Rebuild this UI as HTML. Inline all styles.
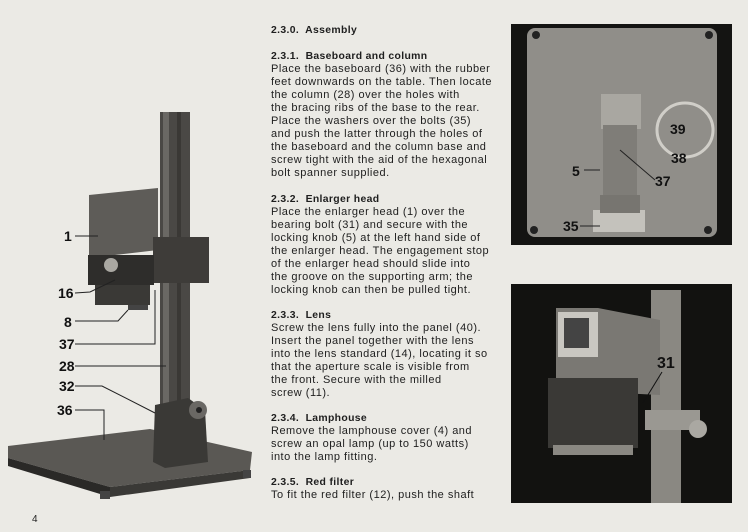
<!DOCTYPE html>
<html><head><meta charset="utf-8"><style>
body{margin:0;width:748px;height:532px;background:#ebeae5;overflow:hidden;position:relative;font-family:"Liberation Sans",sans-serif;color:#1e1e1e}
.t{position:absolute;left:271px;font-size:11px;line-height:13px;letter-spacing:0.5px;white-space:nowrap}
.h{font-weight:bold;font-size:10.4px;letter-spacing:0.35px}
</style></head><body>
<svg width="748" height="532" style="position:absolute;left:0;top:0">
<polygon points="8,446 150,429 252,452 250,470 110,487 8,458" fill="#5a5854"/>
<polygon points="8,446 8,458 110,487 110,497 8,466" fill="#2a2927"/>
<polygon points="110,487 250,470 250,478 110,497" fill="#3a3936"/>
<rect x="100" y="491" width="10" height="8" fill="#444"/><rect x="243" y="470" width="8" height="8" fill="#444"/>
<rect x="160" y="112" width="30" height="300" fill="#4a4845"/>
<rect x="163" y="112" width="6" height="300" fill="#6a6864"/>
<rect x="177" y="112" width="4" height="300" fill="#3a3835"/>
<polygon points="155,405 188,398 205,410 208,462 165,468 153,462" fill="#3a3936"/>
<circle cx="198" cy="410" r="9" fill="#6a6864"/><circle cx="199" cy="410" r="3" fill="#222"/>
<polygon points="89,195 158,188 158,250 89,258" fill="#5e5c58"/>
<rect x="153" y="237" width="56" height="46" fill="#3e3c39"/>
<rect x="88" y="255" width="66" height="30" fill="#2e2d2b"/>
<circle cx="111" cy="265" r="7" fill="#aaa8a2"/>
<rect x="95" y="285" width="55" height="20" fill="#3a3936"/>
<rect x="128" y="305" width="20" height="5" fill="#444"/>
<g stroke="#222" stroke-width="1" fill="none">
<line x1="75" y1="236" x2="98" y2="236"/>
<polyline points="75,293 90,292 115,280"/>
<polyline points="75,321 118,321 128,310"/>
<polyline points="75,344 155,344 155,290"/>
<line x1="75" y1="366" x2="166" y2="366"/>
<polyline points="75,386 102,386 155,413"/>
<polyline points="75,410 104,410 104,440"/>
</g>
<g font-family="Liberation Sans" font-weight="bold" font-size="14" fill="#111">
<text x="64" y="241">1</text><text x="58" y="298">16</text><text x="64" y="327">8</text>
<text x="59" y="349">37</text><text x="59" y="371">28</text><text x="59" y="391">32</text><text x="57" y="415">36</text>
</g>
<text x="32" y="522" font-size="10" font-family="Liberation Sans" fill="#222">4</text>
<rect x="511" y="24" width="221" height="221" fill="#141412"/>
<rect x="527" y="28" width="190" height="209" rx="8" fill="#908e89"/>
<circle cx="536" cy="35" r="4" fill="#222"/><circle cx="709" cy="35" r="4" fill="#222"/>
<circle cx="534" cy="230" r="4" fill="#222"/><circle cx="708" cy="230" r="4" fill="#222"/>
<rect x="601" y="94" width="40" height="35" fill="#a9a7a1"/>
<rect x="603" y="125" width="34" height="70" fill="#7f7d78"/>
<rect x="593" y="210" width="52" height="22" fill="#c4c2bc"/>
<rect x="600" y="195" width="40" height="18" fill="#777570"/>
<ellipse cx="685" cy="130" rx="28" ry="27" fill="none" stroke="#d0cec8" stroke-width="3"/>
<g stroke="#222" stroke-width="1"><line x1="584" y1="170" x2="600" y2="170"/><line x1="655" y1="180" x2="620" y2="150"/><line x1="580" y1="226" x2="600" y2="226"/></g>
<g font-family="Liberation Sans" font-weight="bold" font-size="14" fill="#111">
<text x="670" y="134">39</text><text x="671" y="163">38</text><text x="572" y="176">5</text>
<text x="655" y="186">37</text><text x="563" y="231">35</text></g>
<rect x="511" y="284" width="221" height="219" fill="#121210"/>
<rect x="651" y="290" width="30" height="213" fill="#8a8882"/>
<polygon points="556,308 598,308 660,320 660,395 556,390" fill="#7a7873"/>
<rect x="558" y="312" width="40" height="45" fill="#c9c7c1"/><rect x="564" y="318" width="25" height="30" fill="#444"/>
<rect x="548" y="378" width="90" height="70" fill="#3a3936"/>
<rect x="553" y="445" width="80" height="10" fill="#8a8882"/>
<rect x="645" y="410" width="55" height="20" fill="#9a9892"/>
<circle cx="698" cy="429" r="9" fill="#aaa8a2"/>
<text x="657" y="368" font-family="Liberation Sans" font-weight="bold" font-size="16" fill="#111">31</text>
<line x1="662" y1="372" x2="643" y2="403" stroke="#111"/>
</svg>
<div class="t h" style="top:24px">2.3.0.&nbsp; Assembly</div>
<div class="t" style="top:50px"><span class="h">2.3.1.&nbsp; Baseboard and column</span><br>Place the baseboard (36) with the rubber<br>feet downwards on the table. Then locate<br>the column (28) over the holes with<br>the bracing ribs of the base to the rear.<br>Place the washers over the bolts (35)<br>and push the latter through the holes of<br>the baseboard and the column base and<br>screw tight with the aid of the hexagonal<br>bolt spanner supplied.</div>
<div class="t" style="top:193px"><span class="h">2.3.2.&nbsp; Enlarger head</span><br>Place the enlarger head (1) over the<br>bearing bolt (31) and secure with the<br>locking knob (5) at the left hand side of<br>the enlarger head. The engagement stop<br>of the enlarger head should slide into<br>the groove on the supporting arm; the<br>locking knob can then be pulled tight.</div>
<div class="t" style="top:309px"><span class="h">2.3.3.&nbsp; Lens</span><br>Screw the lens fully into the panel (40).<br>Insert the panel together with the lens<br>into the lens standard (14), locating it so<br>that the aperture scale is visible from<br>the front. Secure with the milled<br>screw (11).</div>
<div class="t" style="top:412px"><span class="h">2.3.4.&nbsp; Lamphouse</span><br>Remove the lamphouse cover (4) and<br>screw an opal lamp (up to 150 watts)<br>into the lamp fitting.</div>
<div class="t" style="top:476px"><span class="h">2.3.5.&nbsp; Red filter</span><br>To fit the red filter (12), push the shaft</div>
</body></html>
